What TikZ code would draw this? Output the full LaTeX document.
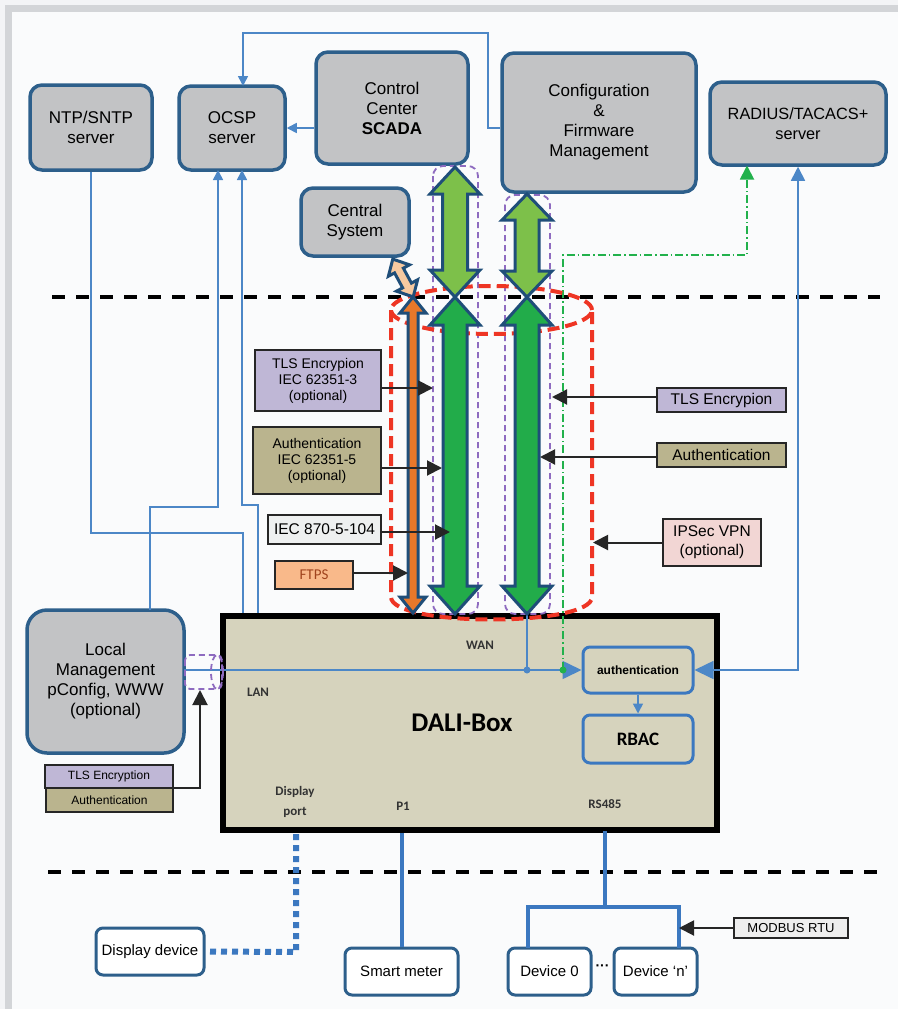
\documentclass[tikz,border=0pt]{standalone}
\usepackage{fontspec}
\setmainfont{Liberation Sans}
\newfontfamily\carl{Carlito}
\usetikzlibrary{arrows.meta}
\definecolor{bgout}{HTML}{F3F4F6}
\definecolor{bgin}{HTML}{FAFBFC}
\definecolor{framegray}{HTML}{D3D5D8}
\definecolor{boxblue}{HTML}{2D5F8B}
\definecolor{boxgray}{HTML}{C2C3C5}
\definecolor{lblue}{HTML}{4C87C7}
\definecolor{tblue}{HTML}{3B78C0}
\definecolor{dali}{HTML}{D6D3BD}
\definecolor{lav}{HTML}{BFB7D6}
\definecolor{olive}{HTML}{BAB48E}
\definecolor{iecc}{HTML}{EEF0F0}
\definecolor{ftpsc}{HTML}{F9B98A}
\definecolor{ftpst}{HTML}{A0441E}
\definecolor{ipsecc}{HTML}{F2D6D4}
\definecolor{modc}{HTML}{EEEEEE}
\definecolor{gLight}{HTML}{7DC04A}
\definecolor{gDark}{HTML}{22AC4A}
\definecolor{orng}{HTML}{E8782A}
\definecolor{peach}{HTML}{F6C9A0}
\definecolor{arrout}{HTML}{1F4E79}
\definecolor{purp}{HTML}{8E6BC0}
\definecolor{redd}{HTML}{EE3524}
\definecolor{gdash}{HTML}{22B14C}
\newcommand\dblarr[7]{\draw[arrline, fill=#7] (#1,#2) -- ({#1+#5},{#2+#6}) -- ({#1+#4},{#2+#6}) -- ({#1+#4},{#3-#6}) -- ({#1+#5},{#3-#6}) -- (#1,#3) -- ({#1-#5},{#3-#6}) -- ({#1-#4},{#3-#6}) -- ({#1-#4},{#2+#6}) -- ({#1-#5},{#2+#6}) -- cycle;}
\begin{document}
\begin{tikzpicture}[x=1pt,y=-1pt,
  srv/.style={draw=boxblue, line width=3.5pt, fill=boxgray, rounded corners=12pt, inner sep=0pt, align=center, font=\fontsize{17}{20}\selectfont},
  dev/.style={draw=boxblue, line width=3pt, fill=white, rounded corners=7pt, inner sep=0pt, align=center, font=\fontsize{15}{18}\selectfont},
  inbox/.style={draw=tblue, line width=3pt, fill=dali, rounded corners=7pt, inner sep=0pt, align=center},
  lab/.style={draw=black!85, line width=1.6pt, inner sep=0pt, align=center, font=\fontsize{14}{16}\selectfont},
  labR/.style={lab, font=\fontsize{15.5}{18}\selectfont},
  port/.style={font=\carl\bfseries\fontsize{13}{20}\selectfont, text=black!80, align=center, inner sep=0pt},
  larrow/.style={draw=black!85, line width=2pt, -{Triangle[length=15pt,width=15pt]}},
  bl/.style={draw=lblue, line width=1.6pt},
  barr/.style={bl, -{Triangle[length=10pt,width=10pt]}},
  bigarr/.style={bl, -{Triangle[length=19pt,width=18pt]}},
  thick line/.style={draw=tblue, line width=4pt},
  arrline/.style={draw=arrout, line width=3pt, line join=miter},
  blackdash/.style={draw=black, line width=4pt, dash pattern=on 13pt off 11pt},
  purpdash/.style={draw=purp, line width=1.8pt, dash pattern=on 6pt off 4pt},
  reddash/.style={draw=redd, line width=4pt, dash pattern=on 12pt off 6pt},
]
\useasboundingbox (0,0) rectangle (898,1009);
% background and frame
\fill[bgout] (0,0) rectangle (898,1009);
\fill[bgin] (12,12) rectangle (898,1009);
\fill[framegray] (5,5) rectangle (898,12);
\fill[framegray] (5,5) rectangle (12,1009);

% separators
\draw[blackdash] (52,297) -- (880,297);
\draw[blackdash] (48,872) -- (880,872);

% servers
\node[srv, minimum width=122pt, minimum height=85pt] (ntp) at (91,127.5) {NTP/SNTP\\server};
\node[srv, minimum width=106pt, minimum height=84pt] (ocsp) at (232,128) {OCSP\\server};
\node[srv, minimum width=152pt, minimum height=112pt] (scada) at (392,108) {Control\\Center\\\textbf{SCADA}};
\node[srv, minimum width=194pt, minimum height=139pt] (config) at (599,122.5) {Configuration\\\&\\Firmware\\Management};
\node[srv, minimum width=176pt, minimum height=83pt, font=\fontsize{16.3}{20}\selectfont] (radius) at (798,123.5) {RADIUS/TACACS+\\server};
\node[srv, minimum width=108pt, minimum height=68pt] (central) at (355,222) {Central\\System};
\node[srv, rounded corners=20pt, minimum width=157pt, minimum height=143pt] (local) at (105.5,681.5) {Local\\Management\\pConfig, WWW\\(optional)};

% DALI box
\node[draw=black, line width=6pt, fill=dali, minimum width=494pt, minimum height=214pt, inner sep=0pt] (dali) at (470,723) {};
\node[font=\carl\bfseries\fontsize{27}{30}\selectfont] (dalit) at (462,723) {DALI-Box};
\node[inbox, minimum width=110pt, minimum height=46pt, font=\bfseries\fontsize{12}{14}\selectfont] (auth) at (638,670) {authentication};
\node[inbox, minimum width=110pt, minimum height=48pt, font=\carl\bfseries\fontsize{19}{22}\selectfont] (rbac) at (638,739) {RBAC};
\node[port] (wan) at (480,645) {WAN};
\node[port] (lan) at (258,692) {LAN};
\node[port] (dport) at (295,802) {Display\\port};
\node[port] (p1) at (403,806) {P1};
\node[port] (rs) at (605,804) {RS485};

% thin blue connectors
\coordinate (cfgL) at (488,128);
\draw[barr] (config.west |- cfgL) -- (cfgL) -- (488,33) -- (243,33) -- (243,86);
\draw[barr] (scada.west |- ocsp.east) -- (ocsp.east);
\draw[bl] (ntp.south) -- (91,533) -- (243,533) -- (243,613);
\draw[barr] (150,610) -- (150,507) -- (218,507) -- (218,170);
\draw[barr] (258,613) -- (258,505) -- (242,505) -- (242,170);
\draw[bigarr, {Triangle[length=19pt,width=18pt]}-{Triangle[length=14pt,width=14pt]}] (auth.east) -- (798,670) -- (radius.south);
\draw[bigarr] (184,670) -- (auth.west);
\draw[bl] (527,614) -- (527,670);
\fill[lblue] (527,670) circle (3.5pt);
\draw[barr] (auth.south) -- (rbac.north);
\draw[draw=gdash, line width=1.8pt, dash pattern=on 8pt off 3pt on 1.5pt off 3pt, -{Triangle[length=14pt,width=14pt]}] (563,670) -- (563,255) -- (747,255) -- (747,165.5);
\fill[gdash] (563,670) circle (3.5pt);

% bottom devices
\node[dev, minimum width=108pt, minimum height=47pt] (disp) at (150,951.5) {Display device};
\node[dev, minimum width=113pt, minimum height=47pt] (smart) at (401.5,971.5) {Smart meter};
\node[dev, minimum width=83pt, minimum height=47pt] (dev0) at (549.5,971.5) {Device 0};
\node[dev, minimum width=83pt, minimum height=47pt] (devn) at (655.5,971.5) {Device `n'};
\node[font=\bfseries\fontsize{14}{16}\selectfont] (dots) at (602.5,968) {···};
\node[lab, fill=modc, minimum width=114pt, minimum height=20pt, font=\fontsize{13}{15}\selectfont] (modbus) at (791,928) {MODBUS RTU};

\draw[thick line] (smart.north |- dali.south) -- (smart.north);
\draw[thick line] (605,831) -- (605,907);
\draw[thick line] (528,948) -- (528,907) -- (679,907) -- (679,948);
\draw[draw=tblue, line width=6pt, dash pattern=on 6pt off 5pt] (296,834) -- (296,952) -- (disp.east);
\coordinate (mbt) at (679,928);
\draw[larrow] (modbus.west) -- (mbt);

% purple enclosures
\draw[purpdash, rounded corners=10pt] (433,166) rectangle (478,614);
\draw[purpdash, rounded corners=10pt] (505,195) rectangle (550,614);
\draw[purpdash, rounded corners=5pt] (185,655) rectangle (222,689);
\draw[purpdash] (217,672) ellipse (6pt and 17pt);

% red cylinder
\draw[reddash] (491.5,310) ellipse (100.5pt and 24pt);
\draw[reddash] (391,310) -- (391,597) .. controls (391,627) and (592,627) .. (592,597) -- (592,310);

% big arrows
\dblarr{455}{167}{297}{12.5}{25}{27}{gLight}
\dblarr{455}{297}{614}{12}{25}{28}{gDark}
\dblarr{527}{194}{297}{12}{25}{26}{gLight}
\dblarr{527}{297}{614}{12}{25}{28}{gDark}
\dblarr{413}{297}{613}{5}{13}{16}{orng}
\begin{scope}[shift={(403,278)}, rotate=28.4]
\dblarr{0}{-21.5}{21.5}{5}{12}{13}{peach}
\end{scope}

% protocol labels (left)
\node[lab, fill=lav, minimum width=126pt, minimum height=61pt] (tlsL) at (318,380.5) {TLS Encrypion\\IEC 62351-3\\(optional)};
\node[lab, fill=olive, minimum width=128pt, minimum height=67pt] (authL) at (317,460.5) {Authentication\\IEC 62351-5\\(optional)};
\node[lab, fill=iecc, minimum width=113pt, minimum height=29pt, font=\fontsize{15.5}{18}\selectfont] (iec) at (324.5,529.5) {IEC 870-5-104};
\node[lab, fill=ftpsc, minimum width=78pt, minimum height=28pt, font=\carl\fontsize{15}{18}\selectfont, text=ftpst] (ftps) at (314,575) {FTPS};
\coordinate (tA) at (433,388);
\coordinate (tB) at (442,468);
\coordinate (tC) at (450,532);
\coordinate (tD) at (408,573);
\draw[larrow] (tlsL.east |- tA) -- (tA);
\draw[larrow] (authL.east |- tB) -- (tB);
\draw[larrow] (iec.east |- tC) -- (tC);
\draw[larrow] (ftps.east |- tD) -- (tD);

% protocol labels (right)
\node[labR, fill=lav, minimum width=129pt, minimum height=24pt] (tlsR) at (721.5,400) {TLS Encrypion};
\node[labR, fill=olive, minimum width=129pt, minimum height=24pt] (authR) at (721.5,455) {Authentication};
\node[labR, fill=ipsecc, minimum width=98pt, minimum height=47pt, font=\fontsize{15.5}{19}\selectfont] (ipsec) at (712,542.5) {IPSec VPN\\(optional)};
\coordinate (tE) at (552,397);
\coordinate (tF) at (540,457);
\coordinate (tG) at (593,542.5);
\draw[larrow] (tlsR.west |- tE) -- (tE);
\draw[larrow] (authR.west |- tF) -- (tF);
\draw[larrow] (ipsec.west) -- (tG);

% LAN labels
\node[lab, fill=lav, minimum width=128pt, minimum height=23pt, font=\fontsize{12}{14}\selectfont] (tlsLan) at (109,776.5) {TLS Encryption};
\node[lab, fill=olive, minimum width=127pt, minimum height=24pt, font=\fontsize{12}{14}\selectfont] (authLan) at (109.5,800) {Authentication};
\coordinate (tH) at (200,690);
\draw[larrow] (173,788) -- (200,788) -- (tH);
\end{tikzpicture}
\end{document}
